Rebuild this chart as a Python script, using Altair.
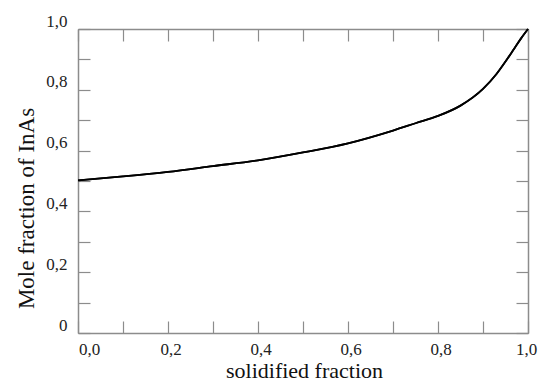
import altair as alt
import pandas as pd

# solidified fraction (x) and mole fraction of InAs (y)
frac = [0.0, 0.1, 0.2, 0.3, 0.4, 0.5, 0.6, 0.7, 0.75, 0.8, 0.85, 0.9, 0.93, 0.95, 0.97, 0.985, 1.0]
mole = [0.502, 0.515, 0.530, 0.549, 0.568, 0.594, 0.624, 0.666, 0.690, 0.714, 0.748, 0.803, 0.852, 0.893, 0.937, 0.970, 1.0]

tick_vals = [0.0, 0.1, 0.2, 0.3, 0.4, 0.5, 0.6, 0.7, 0.8, 0.9, 1.0]

df = pd.DataFrame({"f": frac, "c": mole})

FONT = "Liberation Serif"
AX = "#8c8c8c"

x_lab = "round(datum.value*10)%2==0 ? replace(format(datum.value, '.1f'), '.', ',') : ''"
y_lab = ("datum.value==0 ? '0' : (round(datum.value*10)%2==0 ? "
         "replace(format(datum.value, '.1f'), '.', ',') : '')")

common = dict(domainColor=AX, domainWidth=1.5, tickColor=AX, tickWidth=1.2,
              tickSize=alt.ExprRef(expr="-12"), grid=False,
              labelFont=FONT, labelFontSize=17, labelColor="#222",
              titleFont=FONT, titleFontWeight="normal", titleColor="#111")

x_axis = alt.Axis(values=tick_vals, labelExpr=x_lab, labelPadding=20,
                  labelOffset={"condition": [{"test": "datum.value==0", "value": 11},
                                             {"test": "datum.value==1", "value": -2}],
                               "value": 2.5},
                  title="solidified fraction", titleX=226, titleY=44, titleFontSize=22,
                  titleBaseline="alphabetic", titleAnchor="start", titleAlign="center",
                  labelFlush=False, **common)
y_axis = alt.Axis(values=tick_vals, labelExpr=y_lab, labelPadding=23, labelOffset=-8,
                  title="Mole fraction of InAs", titleX=-45, titleY=179, titleAngle=270,
                  titleFontSize=23,
                  titleBaseline="alphabetic", titleAlign="center", labelFlush=False, **common)

mirror = dict(domainColor=AX, domainWidth=1.5, tickColor=AX, tickWidth=1.2,
              tickSize=alt.ExprRef(expr="-12"), grid=False, labels=False, title=None)

xs = alt.Scale(domain=[0, 1], nice=False, zero=False)
ys = alt.Scale(domain=[0, 1], nice=False, zero=False)

main = alt.Chart(df).mark_line(color="black", strokeWidth=1.8, interpolate="monotone").encode(
    x=alt.X("f:Q", scale=xs, axis=x_axis),
    y=alt.Y("c:Q", scale=ys, axis=y_axis),
)
frame = alt.Chart(df).mark_line(color="black", strokeWidth=1.8, interpolate="monotone").encode(
    x=alt.X("f:Q", scale=xs, axis=alt.Axis(orient="top", values=tick_vals, **mirror)),
    y=alt.Y("c:Q", scale=ys, axis=alt.Axis(orient="right", values=tick_vals, **mirror)),
)

chart = alt.layer(main, frame).resolve_axis(x="independent", y="independent").properties(
    width=450, height=304,
    autosize=alt.AutoSizeParams(type="none"),
    padding={"left": 70, "top": 21, "right": 12, "bottom": 50},
).configure_view(stroke=None).configure_axis(
    labelFont=FONT, labelFontSize=17
).configure(background="white")

chart.save("out.html", embed_options={"renderer": "svg", "actions": False})
